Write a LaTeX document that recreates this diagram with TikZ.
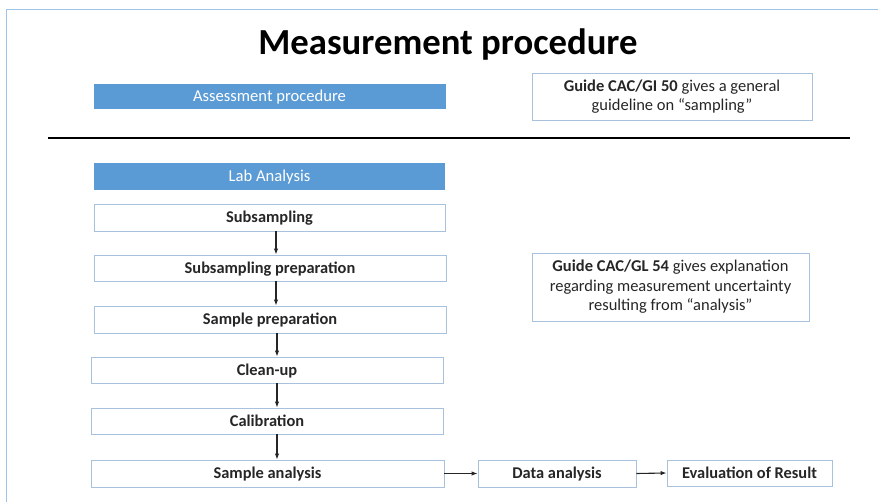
\documentclass[tikz,border=0pt]{standalone}
\usepackage{fontspec}
\setmainfont{Carlito}
\usetikzlibrary{arrows.meta}
\definecolor{slideblue}{HTML}{5B9BD5}
\definecolor{boxline}{HTML}{A8C2DE}
\definecolor{frameline}{HTML}{9DC3E6}
\definecolor{ink}{HTML}{262626}
\newcommand\stepwidth{352pt}
\newcommand\stepheight{26pt}
\newcommand\arrowtip{Latex[length=6pt,width=4.5pt]}

\tikzset{
  bluebar/.style={fill=slideblue,draw=none,minimum width=\stepwidth,minimum height=\stepheight,
    text=white,font=\fontsize{16.6}{19}\selectfont,inner sep=0pt,text height=12.5pt,text depth=1.8pt},
  stepbox/.style={draw=boxline,line width=0.9pt,fill=white,minimum width=\stepwidth,
    minimum height=\stepheight,text=ink,font=\bfseries\fontsize{16.4}{19}\selectfont,inner sep=0pt,
    text height=12.5pt,text depth=1.9pt},
  notebox/.style={draw=boxline,line width=0.9pt,text=ink,align=center,
    font=\fontsize{16.5}{19.5}\selectfont,inner sep=0pt},
  flow/.style={-{\arrowtip},line width=1.1pt,draw=ink}
}

\begin{document}
\begin{tikzpicture}[x=1pt,y=-1pt]
    \useasboundingbox (0,0) rectangle (878,502);
    % slide frame
    \draw[frameline,line width=1pt] (6,502) -- (6,10) -- (878,10);

    \node[font=\bfseries\fontsize{36.7}{42}\selectfont,text=black] (title) at (448,44.5) {Measurement procedure};

    % top part
    \node[bluebar,minimum height=25pt] (assess) at (269.5,96.5) {Assessment procedure};
    \node[notebox,minimum width=280pt,minimum height=47pt] (guidea) at (672,96.5)
      {\textbf{Guide CAC/GI 50} gives a general\\guideline on “sampling”};

    \draw[black,line width=1.6pt] (48,138) -- (850,138);

    % lab steps
    \node[bluebar,minimum height=27pt,minimum width=351pt] (lab) at (269.5,176.5) {Lab Analysis};
    \node[stepbox,minimum height=27pt,minimum width=351pt] (subs) at (269.5,217.5) {Subsampling};
    \node[stepbox] (subsprep) at (270,268) {Subsampling preparation};
    \node[stepbox,minimum height=27pt] (sampprep) at (270,319.5) {Sample preparation};
    \node[stepbox] (clean) at (267,370) {Clean-up};
    \node[stepbox] (calib) at (267,421) {Calibration};
    \node[stepbox,minimum height=27pt,minimum width=353pt] (sampan) at (267.5,473.5) {Sample analysis};
    \node[stepbox,minimum height=27pt,minimum width=158pt] (data) at (557,473.5) {Data analysis};
    \node[stepbox,minimum width=165pt] (evalr) at (749.5,473) {Evaluation of Result};

    \node[notebox,minimum width=277pt,minimum height=68pt] (guideb) at (670.5,287)
      {\textbf{Guide CAC/GL 54} gives explanation\\regarding measurement uncertainty\\resulting from “analysis”};

    \coordinate (ax) at (276,0);
    \coordinate (bx) at (277,0);
    \draw[flow] (subs.south -| ax) -- (subsprep.north -| ax);
    \draw[flow] (subsprep.south -| ax) -- (sampprep.north -| ax);
    \draw[flow] (sampprep.south -| bx) -- (clean.north -| bx);
    \draw[flow] (clean.south -| bx) -- (calib.north -| bx);
    \draw[flow] (calib.south -| bx) -- (sampan.north -| bx);
    \draw[flow] (sampan.east) -- (data.west);
    \draw[flow] (data.east) -- (evalr.west);
  \end{tikzpicture}
\end{document}
